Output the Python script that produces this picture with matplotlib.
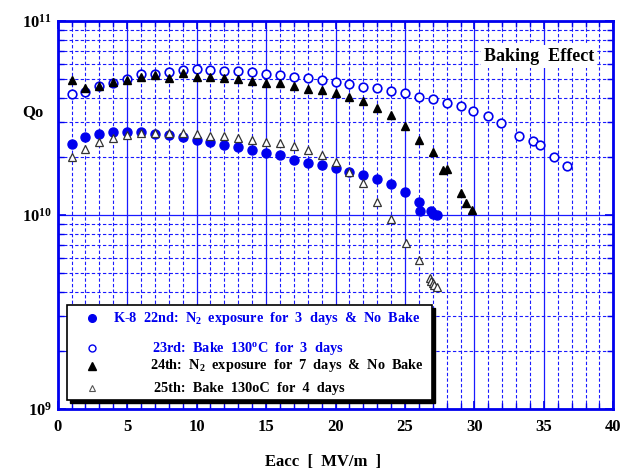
import matplotlib
matplotlib.use("Agg")
import matplotlib.pyplot as plt
from matplotlib.ticker import MultipleLocator, LogLocator, FixedLocator, NullFormatter
from matplotlib.patches import Rectangle
import numpy as np

plt.rcParams['font.family'] = ['Liberation Serif', 'DejaVu Serif']
plt.rcParams['font.weight'] = 'bold'
plt.rcParams['mathtext.fontset'] = 'custom'
plt.rcParams['mathtext.rm'] = 'Liberation Serif:bold'
plt.rcParams['mathtext.bf'] = 'Liberation Serif:bold'
plt.rcParams['mathtext.it'] = 'Liberation Serif:bold'

# 22nd: N2 exposure for 3 days & No Bake (filled blue circles)
e22 = [1, 2, 3, 4, 5, 6, 7, 8, 9, 10, 11, 12, 13, 14, 15, 16, 17, 18, 19, 20, 21,
       22, 23, 24, 25, 26, 26.1, 26.85, 27.04, 27.3]
q22 = [2.33e10, 2.52e10, 2.61e10, 2.67e10, 2.67e10, 2.69e10, 2.62e10, 2.58e10, 2.52e10,
       2.44e10, 2.37e10, 2.30e10, 2.24e10, 2.16e10, 2.09e10, 2.03e10, 1.92e10, 1.86e10,
       1.81e10, 1.75e10, 1.67e10, 1.61e10, 1.53e10, 1.44e10, 1.31e10, 1.17e10, 1.05e10,
       1.05e10, 1.01e10, 1.0e10]

# 23rd: Bake 130C for 3 days (open blue circles)
e23 = [1, 2, 3, 4, 5, 6, 7, 8, 9, 10, 11, 12, 13, 14, 15, 16, 17, 18, 19, 20, 21,
       22, 23, 24, 25, 26, 27, 28, 29, 29.9, 31, 31.9, 33.2, 34.2, 34.7, 35.7, 36.7]
q23 = [4.2e10, 4.32e10, 4.6e10, 4.81e10, 5.04e10, 5.31e10, 5.35e10, 5.44e10, 5.57e10,
       5.66e10, 5.57e10, 5.54e10, 5.5e10, 5.46e10, 5.35e10, 5.27e10, 5.14e10, 5.07e10,
       4.98e10, 4.86e10, 4.75e10, 4.59e10, 4.5e10, 4.34e10, 4.24e10, 4.07e10, 3.95e10,
       3.79e10, 3.63e10, 3.44e10, 3.23e10, 2.99e10, 2.56e10, 2.42e10, 2.29e10, 2.0e10,
       1.79e10]

# 24th: N2 exposure for 7 days & No Bake (filled black triangles)
e24 = [1, 2, 3, 4, 5, 6, 7, 8, 9, 10, 11, 12, 13, 14, 15, 16, 17, 18, 19, 20, 21,
       22, 23, 24, 25, 26, 27, 27.76, 28.05, 29, 29.4, 29.8]
q24 = [4.95e10, 4.53e10, 4.62e10, 4.85e10, 4.98e10, 5.14e10, 5.29e10, 5.1e10, 5.38e10,
       5.16e10, 5.16e10, 5.1e10, 5.04e10, 4.92e10, 4.79e10, 4.81e10, 4.61e10, 4.45e10,
       4.41e10, 4.27e10, 4.07e10, 3.85e10, 3.57e10, 3.26e10, 2.87e10, 2.44e10, 2.11e10,
       1.71e10, 1.72e10, 1.30e10, 1.15e10, 1.06e10]

# 25th: Bake 130oC for 4 days (open triangles)
e25 = [1, 2, 3, 4, 5, 6, 7, 8, 9, 10, 11, 12, 13, 14, 15, 16, 17, 18, 19, 20, 21,
       22, 23, 24, 25.1, 26.0, 26.8, 26.9, 27.04, 27.1, 27.3]
q25 = [2.0e10, 2.2e10, 2.38e10, 2.49e10, 2.59e10, 2.64e10, 2.65e10, 2.65e10, 2.64e10,
       2.62e10, 2.56e10, 2.55e10, 2.50e10, 2.43e10, 2.38e10, 2.35e10, 2.28e10, 2.16e10,
       2.05e10, 1.88e10, 1.67e10, 1.46e10, 1.16e10, 9.5e9, 7.15e9, 5.86e9, 4.72e9,
       4.58e9, 4.45e9, 4.36e9, 4.24e9]

labels = [r'K-8  22nd:  N$_{2}$  exposure  for  3  days  &  No  Bake',
          r'23rd:  Bake  130$^{o}$C  for  3  days',
          r'24th:  N$_{2}$  exposure  for  7  days  &  No  Bake',
          r'25th:  Bake  130oC  for  4  days']

BLUE = '#0000ee'
GRID = '#1a1aff'

fig = plt.figure(figsize=(6.31, 4.75), dpi=100)
ax = fig.add_axes([0.0914, 0.139, 0.8806, 0.8168])
ax.set_yscale('log')
ax.set_xlim(0, 40)
ax.set_ylim(1e9, 1e11)

# grid
ax.xaxis.set_major_locator(MultipleLocator(5))
ax.xaxis.set_minor_locator(MultipleLocator(1))
ax.yaxis.set_major_locator(FixedLocator([1e9, 1e10, 1e11]))
ax.yaxis.set_minor_locator(LogLocator(base=10, subs=np.arange(2, 10)))
ax.yaxis.set_minor_formatter(NullFormatter())
ax.grid(True, which='major', color=GRID, lw=0.9, ls='-', zorder=0)
ax.grid(True, which='minor', color=GRID, lw=0.8, ls=(0, (3.0, 2.0)), zorder=0)
ax.set_axisbelow(True)

for s in ax.spines.values():
    s.set_color(BLUE)
    s.set_linewidth(2.0)

ax.tick_params(which='both', direction='in', color=BLUE, top=True, right=True)
ax.tick_params(which='major', length=6, width=1.2, labelsize=12, pad=7)
ax.tick_params(which='minor', length=4, width=1.0)
ax.set_xticks([0, 5, 10, 15, 20, 25, 30, 35, 40])
ax.set_xticklabels(['0', '5', '10', '15', '20', '25', '30', '35', '40'], fontweight='bold')
ax.set_yticks([1e9, 1e10, 1e11])
ax.set_yticklabels([r'10$^{9}$', r'10$^{10}$', r'10$^{11}$'], fontsize=12)
ax.tick_params(axis='y', which='major', pad=4)

# data
ax.plot(e23, q23, 'o', ms=6.2, mfc='white', mec=BLUE, mew=1.2, ls='none', zorder=3)
ax.plot(e24, q24, '^', ms=6.2, mfc='black', mec='black', ls='none', zorder=4)
ax.plot(e22, q22, 'o', ms=6.5, mfc=BLUE, mec=BLUE, ls='none', zorder=5)
ax.plot(e25, q25, '^', ms=6.2, mfc='white', mec='#333333', mew=0.9, ls='none', zorder=6)

# labels
fig.text(0.0523, 0.764, 'Qo', fontsize=12, fontweight='bold', ha='center', va='center')
fig.text(0.512, 0.027, 'Eacc  [  MV/m  ]', fontsize=12, fontweight='bold', ha='center', va='center')
ax.text(0.866, 0.908, 'Baking  Effect', transform=ax.transAxes, fontsize=13,
        fontweight='bold', ha='center', va='center', zorder=7,
        bbox=dict(boxstyle='square,pad=0.15', fc='white', ec='none'))

# legend box (manual)
bx0, bx1, by0, by1 = 0.0162, 0.673, 0.0232, 0.268
shadow = Rectangle((bx0 + 0.006, by0 - 0.009), bx1 - bx0, by1 - by0, transform=ax.transAxes,
                   fc='black', ec='black', zorder=8)
box = Rectangle((bx0, by0), bx1 - bx0, by1 - by0, transform=ax.transAxes,
                fc='white', ec='black', lw=1.2, zorder=9)
ax.add_patch(shadow)
ax.add_patch(box)
mx = 0.0623
rows = [0.2338, 0.1564, 0.1108, 0.0534]
tx = [0.100, 0.170, 0.166, 0.174]
styles = [dict(marker='o', ms=5.5, mfc=BLUE, mec=BLUE),
          dict(marker='o', ms=5.0, mfc='white', mec=BLUE, mew=1.0),
          dict(marker='^', ms=5.5, mfc='black', mec='black'),
          dict(marker='^', ms=5.0, mfc='white', mec='#555555', mew=0.8)]
tcol = [BLUE, BLUE, 'black', 'black']
for i in range(4):
    ax.plot([mx], [rows[i]], transform=ax.transAxes, ls='none', zorder=10,
            clip_on=False, **styles[i])
    ax.text(tx[i], rows[i], labels[i], transform=ax.transAxes, fontsize=10.3,
            fontweight='bold', color=tcol[i], ha='left', va='center', zorder=10)

fig.savefig('out.png', dpi=100)
